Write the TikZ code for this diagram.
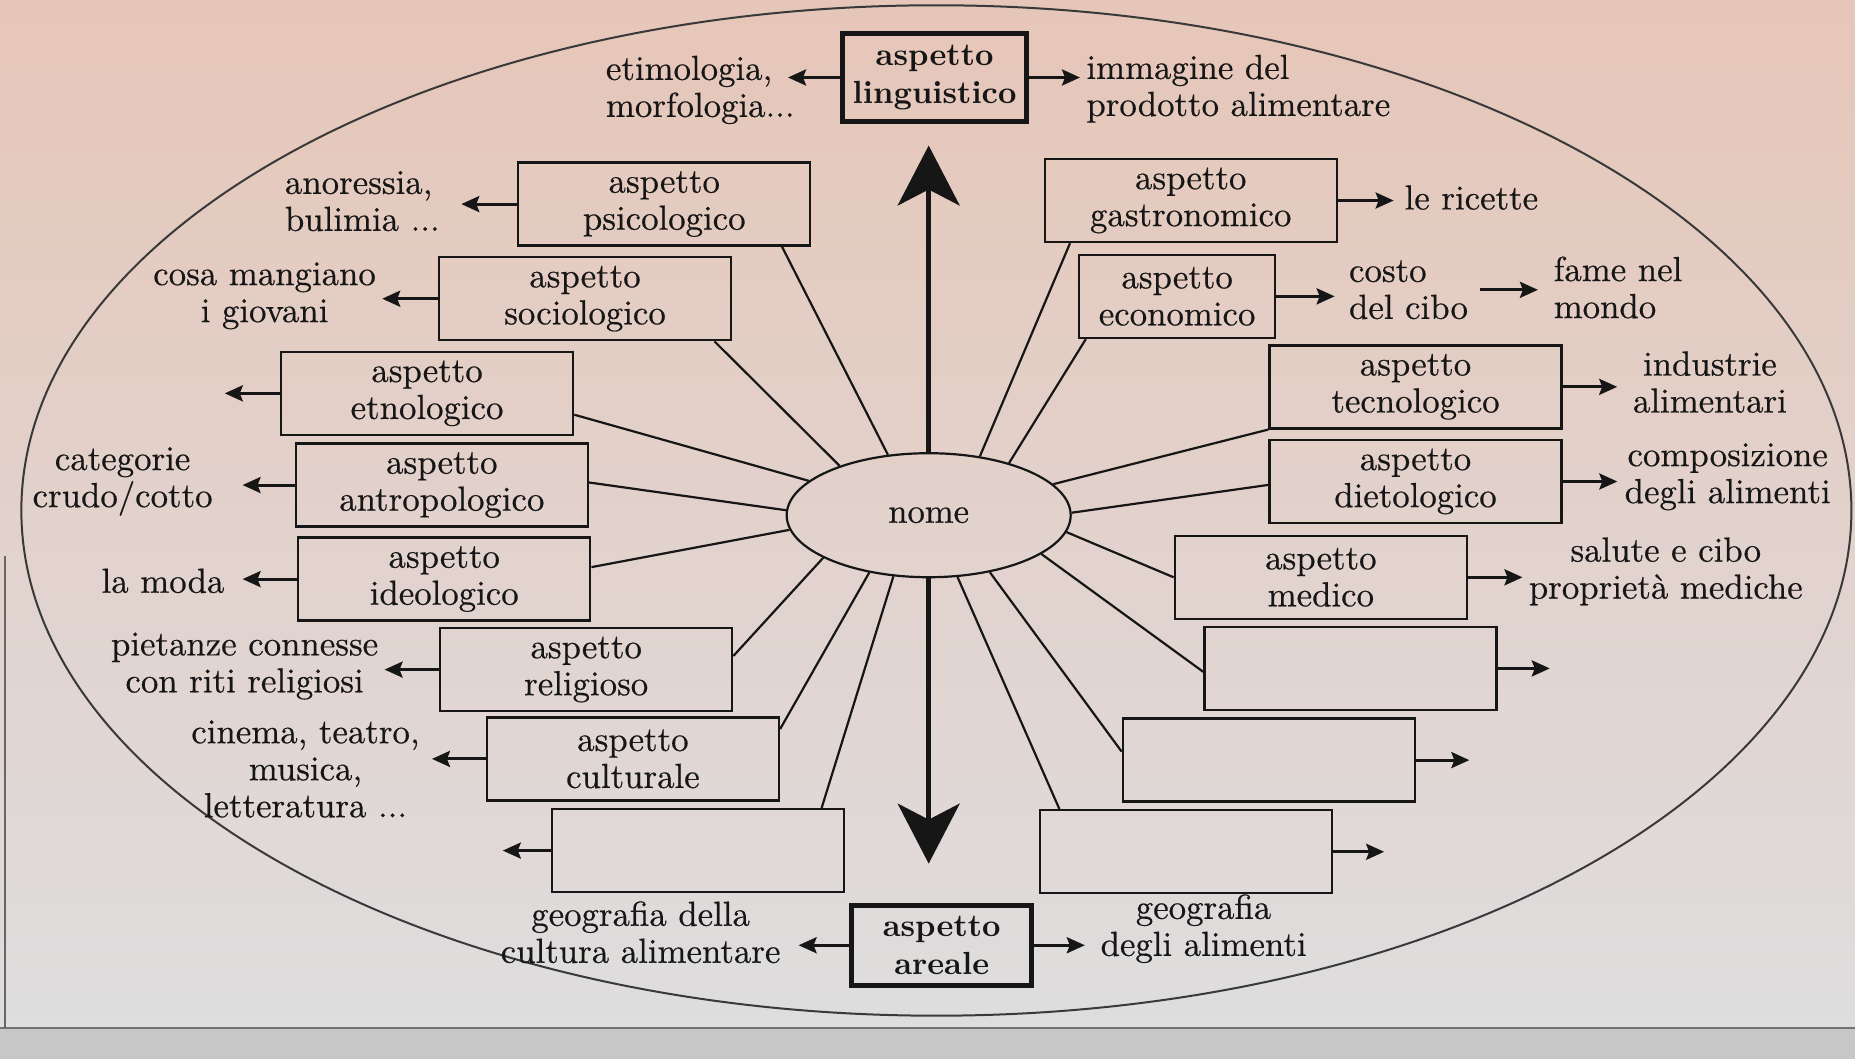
\documentclass[tikz,border=0pt]{standalone}
\usepackage{fontspec}
\newfontfamily\heavy{lmroman10-regular.otf}[FakeBold=0.5]
\newfontfamily\heavybf{lmroman10-bold.otf}
\usetikzlibrary{shapes.geometric,arrows.meta,calc}
\definecolor{bgtop}{HTML}{E6C6B8}
\definecolor{bgmid}{HTML}{EEDFD9}
\definecolor{bgbot}{HTML}{DEDEE0}
\definecolor{ink}{HTML}{161616}
\begin{document}
\begin{tikzpicture}[x=0.5915pt,y=-0.5915pt,
  every node/.style={text=ink},
  txt/.style={font=\heavy\fontsize{17.4}{18.5}\selectfont, inner sep=0pt, align=center},
  box/.style={draw=ink, line width=1.2pt, minimum width=146pt, minimum height=41.5pt, inner sep=0pt, align=center, font=\heavy\fontsize{17.4}{18.5}\selectfont},
  bbox/.style={draw=ink, line width=2.4pt, inner sep=0pt, align=center, font=\heavybf\fontsize{16}{18.8}\selectfont},
  arr/.style={draw=ink, line width=1.5pt, -{Stealth[length=9pt,width=8pt,inset=1.5pt]}},
  spoke/.style={draw=ink, line width=1.1pt},
  big/.style={draw=ink, line width=2.2pt, -{Stealth[length=30pt,width=31pt,inset=8pt]}}]
\useasboundingbox (0,0) rectangle (1568,895);
\shade[top color=bgtop, middle color=bgmid, bottom color=bgbot] (0,0) rectangle (1568,895);
\fill[black!22] (0,870) rectangle (1568,895);
\draw[black!55, line width=1pt] (0,869) -- (1568,869);
\draw[black!60, line width=0.8pt] (4,470) -- (4,869);
% outer ellipse
\draw[ink!85, line width=1pt] (791.5,431.5) ellipse [x radius=457.5pt, y radius=252.6pt];
% centre
\node[draw=ink, line width=1.1pt, ellipse, minimum width=142pt, minimum height=62pt, inner sep=0pt, font=\heavy\fontsize{17.3}{18.5}\selectfont] (nome) at (785,435.5) {nome};
% bold boxes
\node[bbox, minimum width=92pt, minimum height=44pt] (ling) at (790,65.5) {aspetto\\linguistico};
\node[bbox, minimum width=90pt, minimum height=40pt] (areale) at (796,799) {aspetto\\areale};
% left boxes
\node[box] (psi) at (561.5,172.5) {aspetto\\psicologico};
\node[box] (soc) at (494.5,252.5) {aspetto\\sociologico};
\node[box] (etn) at (361,332.5) {aspetto\\etnologico};
\node[box] (antr) at (373.5,410) {aspetto\\antropologico};
\node[box] (ideo) at (375.5,489.5) {aspetto\\ideologico};
\node[box] (rel) at (495.5,566) {aspetto\\religioso};
\node[box] (cult) at (535,641.5) {aspetto\\culturale};
\node[box] (e8) at (590,719) {};
% right boxes
\node[box] (gastr) at (1006.5,169.5) {aspetto\\gastronomico};
\node[box, minimum width=98pt] (econ) at (995,250.5) {aspetto\\economico};
\node[box] (tecn) at (1196.5,327) {aspetto\\tecnologico};
\node[box] (diet) at (1196.5,407) {aspetto\\dietologico};
\node[box] (med) at (1116.5,488) {aspetto\\medico};
\node[box] (e14) at (1141.5,565) {};
\node[box] (e15) at (1072.5,642.5) {};
\node[box] (e16) at (1002.5,720) {};
% texts
\node[txt, align=left, anchor=east] (ety) at (672,76) {etimologia,\\morfologia...};
\node[txt, align=left, anchor=west] (imm) at (918,75) {immagine del\\prodotto alimentare};
\node[txt, align=left, anchor=east] (psiT) at (372,170) {anoressia,\\bulimia ...};
\node[txt, anchor=east] (socT) at (318,250) {cosa mangiano\\i giovani};
\node[txt, anchor=east] (antrT) at (180,407) {categorie\\crudo/cotto};
\node[txt, anchor=east] (ideoT) at (190,491) {la moda};
\node[txt, anchor=east] (relT) at (320,563) {pietanze connesse\\con riti religiosi};
\node[txt, anchor=east] (cultT) at (355,650) {cinema, teatro,\\musica,\\letteratura ...};
\node[txt, anchor=east] (geoL) at (660,788) {geografia della\\cultura alimentare};
\node[txt, anchor=west] (geoR) at (930,785) {geografia\\degli alimenti};
\node[txt, anchor=west] (ric) at (1187,167) {le ricette};
\node[txt, align=left, anchor=west] (costo) at (1140,245) {costo\\del cibo};
\node[txt, align=left, anchor=west] (fame) at (1313,243) {fame nel\\mondo};
\node[txt, anchor=west] (ind) at (1380,323) {industrie\\alimentari};
\node[txt, anchor=west] (comp) at (1373,403) {composizione\\degli alimenti};
\node[txt, anchor=west] (sal) at (1292,483) {salute e cibo\\proprietà mediche};
% free ends
\coordinate (etnE) at (190,332.5);
\coordinate (e8E) at (425,719);
\coordinate (e14E) at (1310,565);
\coordinate (e15E) at (1242,642.5);
\coordinate (e16E) at (1170,720);
\coordinate (upT) at (785,123);
\coordinate (dnT) at (785,730);
% big arrows
\draw[big] (nome.north) -- (upT);
\draw[big] (nome.south) -- (dnT);
% arrows to texts
\draw[arr, shorten >=-3.5pt] (ling.west) -- (ling.west -| ety.east);
\draw[arr, shorten >=3pt] (ling.east) -- (ling.east -| imm.west);
\draw[arr, shorten >=10.6pt] (psi.west) -- (psi.west -| psiT.east);
\draw[arr, shorten >=3pt] (soc.west) -- (soc.west -| socT.east);
\draw[arr] (etn.west) -- (etn.west -| etnE);
\draw[arr, shorten >=14.8pt] (antr.west) -- (antr.west -| antrT.east);
\draw[arr, shorten >=8.9pt] (ideo.west) -- (ideo.west -| ideoT.east);
\draw[arr, shorten >=3pt] (rel.west) -- (rel.west -| relT.east);
\draw[arr, shorten >=6pt] (cult.west) -- (cult.west -| cultT.east);
\draw[arr] (e8.west) -- (e8.west -| e8E);
\draw[arr, shorten >=8.9pt] (areale.west) -- (areale.west -| geoL.east);
\draw[arr, shorten >=7.7pt] (areale.east) -- (areale.east -| geoR.west);
\draw[arr, shorten >=5.3pt] (gastr.east) -- (gastr.east -| ric.west);
\draw[arr, shorten >=7pt] (econ.east) -- (econ.east -| costo.west);
\draw[arr, shorten <=6pt, shorten >=7.7pt] (costo.east) -- (costo.east -| fame.west);
\draw[arr, shorten >=7.7pt] (tecn.east) -- (tecn.east -| ind.west);
\draw[arr, shorten >=3.5pt] (diet.east) -- (diet.east -| comp.west);
\draw[arr, shorten >=3pt] (med.east) -- (med.east -| sal.west);
\draw[arr] (e14.east) -- (e14.east -| e14E);
\draw[arr] (e15.east) -- (e15.east -| e15E);
\draw[arr] (e16.east) -- (e16.east -| e16E);
% spokes
\draw[spoke] ($(psi.south west)!0.9!(psi.south east)$) -- (nome.124);
\draw[spoke] ($(soc.south west)!0.94!(soc.south east)$) -- (nome.151);
\draw[spoke] ($(etn.north east)!0.75!(etn.south east)$) -- (nome.164);
\draw[spoke] ($(antr.north east)!0.47!(antr.south east)$) -- (nome.178);
\draw[spoke] ($(ideo.north east)!0.36!(ideo.south east)$) -- (nome.186);
\draw[spoke] ($(rel.north east)!0.34!(rel.south east)$) -- (nome.202);
\draw[spoke] ($(cult.north east)!0.15!(cult.south east)$) -- (nome.224);
\draw[spoke] ($(e8.north west)!0.92!(e8.north east)$) -- (nome.240);
\draw[spoke] ($(gastr.south west)!0.09!(gastr.south east)$) -- (nome.49);
\draw[spoke] ($(econ.south west)!0.04!(econ.south east)$) -- (nome.33);
\draw[spoke] (tecn.south west) -- (nome.14);
\draw[spoke] ($(diet.north west)!0.54!(diet.south west)$) -- (nome.1);
\draw[spoke] (med.west) -- (nome.-7);
\draw[spoke] ($(e14.north west)!0.54!(e14.south west)$) -- (nome.-19);
\draw[spoke] ($(e15.north west)!0.4!(e15.south west)$) -- (nome.-43);
\draw[spoke] ($(e16.north west)!0.07!(e16.north east)$) -- (nome.-65);
\end{tikzpicture}
\end{document}
